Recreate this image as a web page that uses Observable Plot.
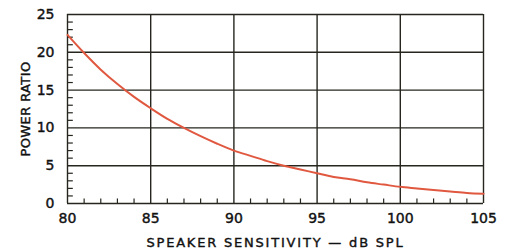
<!DOCTYPE html>
<html>
<head>
<meta charset="utf-8">
<script src="https://cdn.jsdelivr.net/npm/d3@7"></script>
<script src="https://cdn.jsdelivr.net/npm/@observablehq/plot@0.6"></script>
<style>
  html, body { margin: 0; padding: 0; background: #fff; }
  #chart svg { font-family: "DejaVu Sans", sans-serif; font-weight: normal; }
  #chart svg text { stroke: #111; stroke-width: 0.4px; }
  #chart g[aria-label="x-axis label"] text { letter-spacing: 1.8px; font-size: 13px; }
  #chart g[aria-label="y-axis label"] text { letter-spacing: 0.4px; font-size: 13px; }
</style>
</head>
<body>
<div id="chart"></div>
<script>
// Speaker sensitivity (dB SPL) and the power ratio
const sensitivity = [80, 81, 82, 83, 84, 85, 86, 87, 88, 89, 90, 91, 92, 93, 94, 95, 96, 97, 98, 99, 100, 101, 102, 103, 104, 105];
const powerRatio  = [22.3, 19.9, 17.7, 15.8, 14.1, 12.6, 11.2, 10.0, 8.9, 7.9, 7.0, 6.3, 5.6, 5.0, 4.5, 4.0, 3.5, 3.2, 2.8, 2.5, 2.2, 2.0, 1.8, 1.6, 1.4, 1.3];

const xTicks = [80, 85, 90, 95, 100, 105];
const yTicks = [0, 5, 10, 15, 20, 25];
const xMinor = [81, 82, 83, 84, 86, 87, 88, 89, 91, 92, 93, 94, 96, 97, 98, 99, 101, 102, 103, 104];
const yMinor = [1, 2, 3, 4, 6, 7, 8, 9, 11, 12, 13, 14, 16, 17, 18, 19, 21, 22, 23, 24];

const data = sensitivity.map((x, i) => ({x, y: powerRatio[i]}));

const gridColor = "#26261f";

const chart = Plot.plot({
  width: 508,
  height: 251,
  marginLeft: 67,
  marginRight: 25,
  marginTop: 14,
  marginBottom: 48,
  style: {fontSize: "13px", color: "#111", background: "#fff"},
  x: {domain: [80, 105]},
  y: {domain: [0, 25]},
  marks: [
    Plot.ruleX(xTicks, {stroke: gridColor, strokeWidth: 1.4}),
    Plot.ruleY(yTicks, {stroke: gridColor, strokeWidth: 1.4}),
    Plot.ruleX(xMinor, {y1: 0, y2: 0.6, stroke: gridColor, strokeWidth: 1.2}),
    Plot.ruleY(yMinor, {x1: 80, x2: 80.35, stroke: gridColor, strokeWidth: 1.2}),
    Plot.line(data, {x: "x", y: "y", curve: "catmull-rom", stroke: "#e0583f", strokeWidth: 2}),
    Plot.axisX(xTicks, {tickSize: 0, tickPadding: 10, fontSize: 14, label: "SPEAKER SENSITIVITY — dB SPL", labelAnchor: "center", labelArrow: "none", labelOffset: 43}),
    Plot.axisY(yTicks, {tickSize: 0, tickPadding: 13, fontSize: 14, label: "POWER RATIO", labelAnchor: "center", labelArrow: "none", labelOffset: 47})
  ]
});
document.getElementById("chart").appendChild(chart);
</script>
</body>
</html>
